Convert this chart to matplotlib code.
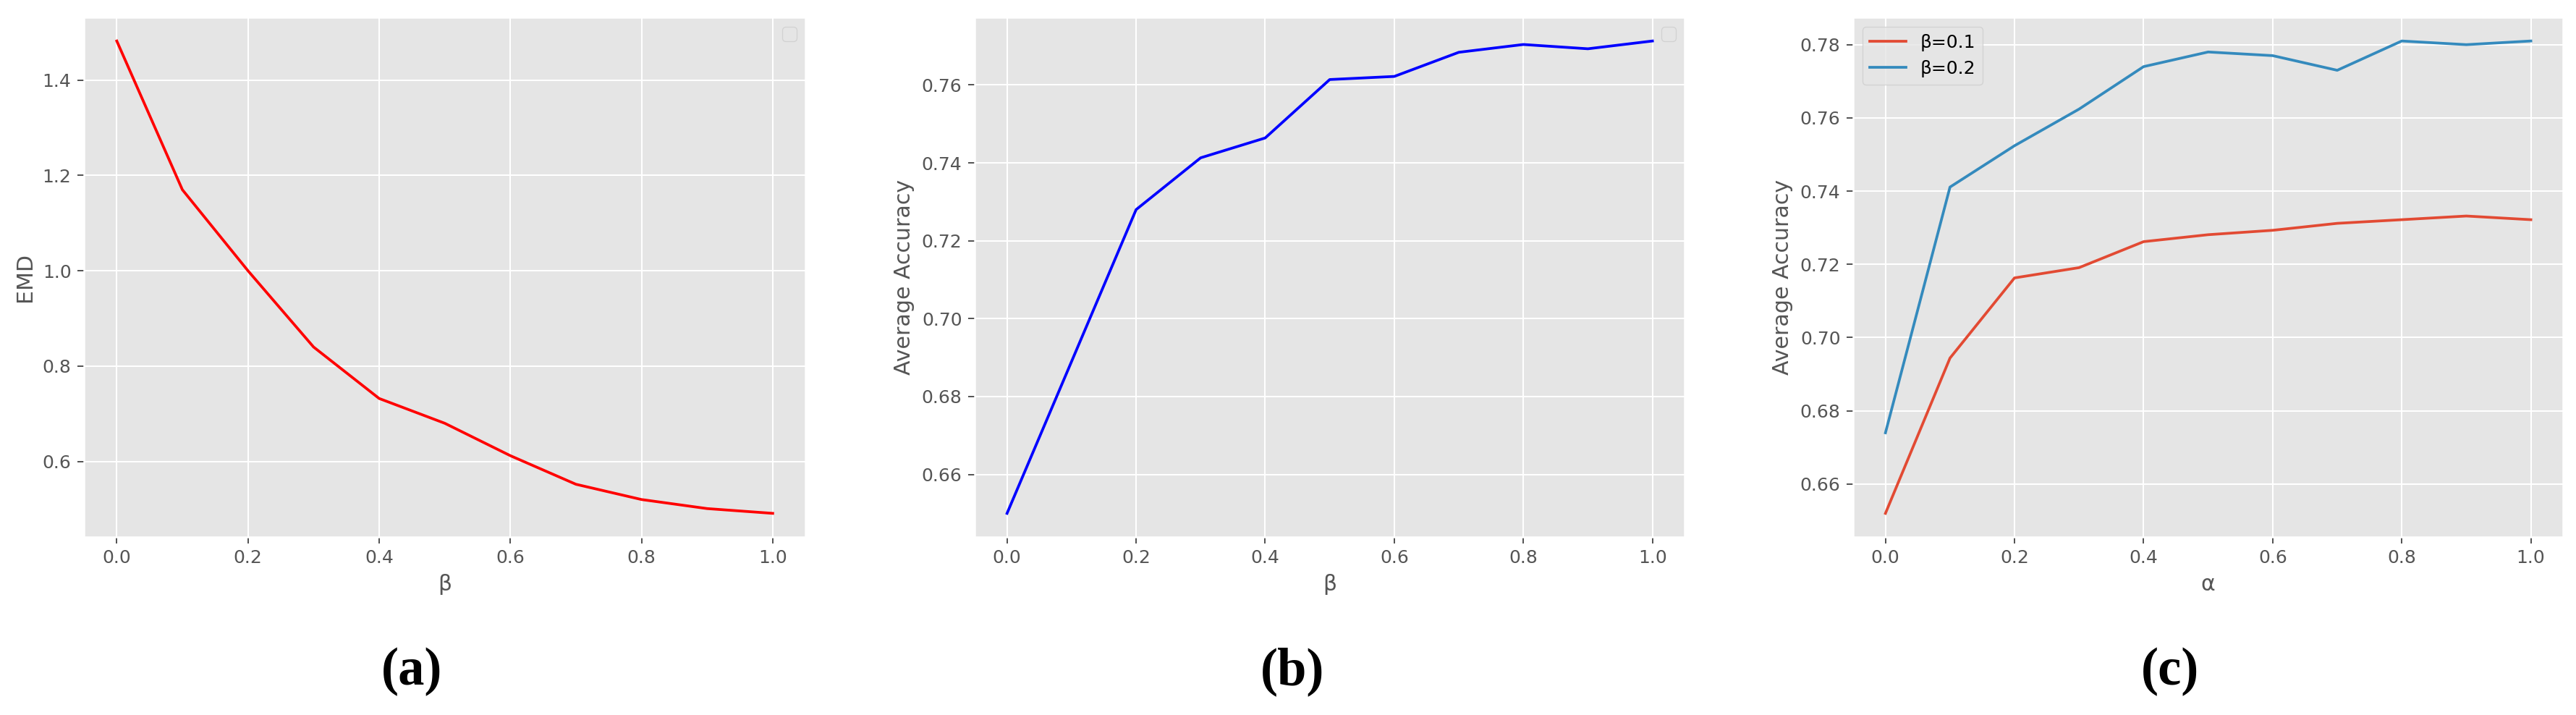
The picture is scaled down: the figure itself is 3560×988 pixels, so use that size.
import numpy as np
import matplotlib
matplotlib.use("Agg")
import matplotlib.pyplot as plt

plt.style.use("ggplot")

# hyper-parameter sweep values
beta = [0.0, 0.1, 0.2, 0.3, 0.4, 0.5, 0.6, 0.7, 0.8, 0.9, 1.0]
alpha = [0.0, 0.1, 0.2, 0.3, 0.4, 0.5, 0.6, 0.7, 0.8, 0.9, 1.0]

emd = [1.482, 1.170, 1.000, 0.840, 0.732, 0.680, 0.612, 0.552, 0.520, 0.501, 0.491]
acc_beta = [0.650, 0.689, 0.728, 0.7413, 0.7464, 0.7614, 0.7622, 0.7684, 0.7704, 0.7693, 0.7713]
acc_b01 = [0.652, 0.6944, 0.7163, 0.7191, 0.7262, 0.7281, 0.7293, 0.7312, 0.7322, 0.7332, 0.7322]
acc_b02 = [0.674, 0.7411, 0.7524, 0.7624, 0.774, 0.778, 0.777, 0.773, 0.781, 0.780, 0.781]

captions = ["(a)", "(b)", "(c)"]

fig = plt.figure(figsize=(3560/180, 988/180), dpi=180)
bot, h = 0.249, 0.7267
ax1 = fig.add_axes([0.0326, bot, 0.2801, h])
ax2 = fig.add_axes([0.3784, bot, 0.2756, h])
ax3 = fig.add_axes([0.7194, bot, 0.2756, h])

# (a) EMD vs beta
ax1.plot(beta, emd, color="red")
ax1.set_xlabel("β")
ax1.set_ylabel("EMD")
ax1.legend(loc="upper right")

# (b) accuracy vs beta
ax2.plot(beta, acc_beta, color="blue")
ax2.set_xlabel("β")
ax2.set_ylabel("Average Accuracy")
ax2.legend(loc="upper right")

# (c) accuracy vs alpha
ax3.plot(alpha, acc_b01, label="β=0.1")
ax3.plot(alpha, acc_b02, label="β=0.2")
ax3.set_xlabel("α")
ax3.set_ylabel("Average Accuracy")
ax3.legend(loc="upper left")

for xc, cap in zip([0.1598, 0.5017, 0.8424], captions):
    fig.text(xc, 0.061, cap, ha="center", va="center", fontsize=29,
             fontweight="bold", family="Liberation Serif")

fig.savefig("out.png", dpi=180)
